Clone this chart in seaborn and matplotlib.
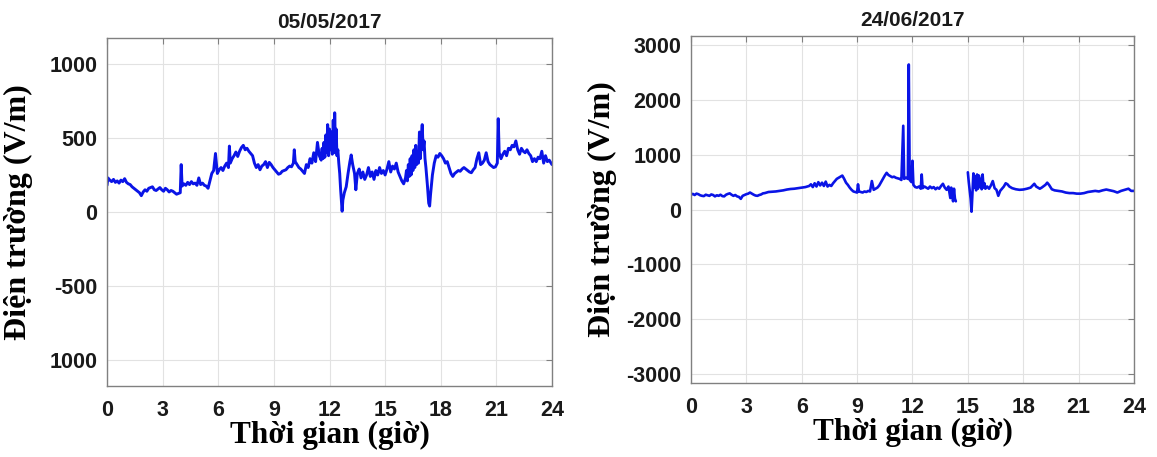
import numpy as np
import pandas as pd
import matplotlib
matplotlib.use("Agg")
import matplotlib.pyplot as plt
import seaborn as sns

# ---- Atmospheric electric field, 05/05/2017 ----
day1_title = "05/05/2017"
day1_hours = [
    0.00, 0.05, 0.15, 0.25, 0.35, 0.45, 0.55, 0.65, 0.75, 0.85, 0.95, 1.05, 1.15, 1.25,
    1.35, 1.45, 1.55, 1.65, 1.75, 1.85, 1.95, 2.05, 2.15, 2.25, 2.35, 2.45, 2.55, 2.65,
    2.75, 2.85, 2.95, 3.05, 3.15, 3.25, 3.35, 3.45, 3.55, 3.65, 3.75, 3.85, 3.95, 4.00,
    4.05, 4.15, 4.25, 4.35, 4.45, 4.55, 4.65, 4.75, 4.85, 4.95, 5.05, 5.15, 5.25, 5.35,
    5.45, 5.55, 5.65, 5.75, 5.85, 5.95, 6.05, 6.15, 6.25, 6.35, 6.45, 6.55, 6.60, 6.65,
    6.75, 6.85, 6.95, 7.05, 7.15, 7.25, 7.35, 7.45, 7.55, 7.65, 7.75, 7.85, 7.95, 8.05,
    8.15, 8.25, 8.35, 8.45, 8.55, 8.65, 8.75, 8.85, 8.95, 9.05, 9.15, 9.25, 9.35, 9.45,
    9.55, 9.65, 9.75, 9.85, 9.95, 10.05, 10.10, 10.15, 10.25, 10.35, 10.45, 10.55, 10.65,
    10.75, 10.85, 10.95, 11.05, 11.15, 11.25, 11.35, 11.45, 11.55, 11.60, 11.65, 11.70,
    11.75, 11.80, 11.85, 11.90, 11.95, 12.00, 12.05, 12.10, 12.15, 12.20, 12.25, 12.28,
    12.32, 12.36, 12.40, 12.45, 12.50, 12.55, 12.60, 12.65, 12.68, 12.72, 12.80, 12.90,
    13.00, 13.10, 13.17, 13.25, 13.35, 13.42, 13.50, 13.60, 13.70, 13.80, 13.90, 14.00,
    14.10, 14.20, 14.30, 14.40, 14.50, 14.60, 14.70, 14.80, 14.90, 15.00, 15.10, 15.20,
    15.30, 15.40, 15.50, 15.60, 15.70, 15.80, 15.90, 16.00, 16.10, 16.15, 16.20, 16.25,
    16.30, 16.35, 16.40, 16.45, 16.50, 16.55, 16.60, 16.65, 16.70, 16.75, 16.80, 16.85,
    16.90, 16.95, 17.00, 17.05, 17.10, 17.15, 17.20, 17.28, 17.35, 17.40, 17.45, 17.55,
    17.65, 17.75, 17.85, 17.95, 18.05, 18.15, 18.25, 18.35, 18.45, 18.55, 18.65, 18.75,
    18.85, 18.95, 19.05, 19.15, 19.25, 19.35, 19.45, 19.55, 19.65, 19.75, 19.85, 19.95,
    20.05, 20.15, 20.25, 20.35, 20.45, 20.55, 20.65, 20.75, 20.85, 20.95, 21.05, 21.10,
    21.15, 21.25, 21.35, 21.45, 21.55, 21.65, 21.75, 21.85, 21.95, 22.05, 22.15, 22.25,
    22.35, 22.45, 22.55, 22.65, 22.75, 22.85, 22.95, 23.05, 23.15, 23.25, 23.35, 23.45,
    23.55, 23.65, 23.75, 23.85, 24.00,
]
day1_field = [
    180, 230, 215, 205, 220, 200, 210, 195, 215, 205, 225, 200, 190, 185,
    170, 160, 150, 140, 130, 110, 135, 150, 140, 160, 165, 170, 150, 145,
    155, 165, 150, 140, 160, 150, 135, 145, 140, 130, 120, 125, 130, 320,
    175, 190, 180, 200, 185, 205, 190, 195, 180, 230, 185, 195, 180, 175,
    160, 210, 260, 280, 395, 260, 285, 300, 280, 310, 330, 300, 445, 330,
    360, 380, 405, 375, 410, 435, 450, 420, 430, 410, 395, 380, 330, 300,
    320, 285, 310, 320, 340, 300, 335, 320, 300, 285, 270, 255, 260, 275,
    280, 285, 300, 310, 305, 330, 420, 340, 320, 300, 290, 275, 260,
    320, 300, 360, 330, 400, 340, 470, 380, 350, 430, 360, 470,
    370, 520, 400, 590, 380, 560, 420, 540, 390, 620, 400, 670,
    430, 560, 380, 420, 330, 260, 150, 60, 5, 80, 130, 170,
    260, 340, 385, 320, 260, 150, 260, 290, 230, 270, 220, 250,
    300, 240, 270, 220, 280, 250, 300, 260, 280, 250, 290, 340,
    270, 310, 290, 330, 270, 240, 210, 190, 230, 280, 210, 320,
    240, 360, 250, 380, 280, 420, 300, 450, 320, 400, 330, 540,
    360, 500, 590, 420, 480, 360, 300, 180, 60, 40, 120, 250,
    330, 380, 370, 395, 380, 360, 330, 340, 300, 260, 240, 260,
    270, 280, 275, 290, 300, 290, 280, 270, 265, 285, 300, 360,
    400, 320, 330, 350, 400, 340, 320, 310, 300, 305, 330, 630,
    400, 360, 390, 410, 380, 430, 420, 450, 440, 480, 420, 390,
    430, 410, 400, 420, 395, 380, 340, 360, 340, 370, 360, 410,
    330, 380, 340, 350, 320,
]
day1_ylim = 1175
day1_yticks = [1000, 500, 0, -500, -1000]
day1_yticklabels = ["1000", "500", "0", "-500", "1000"]

# ---- Atmospheric electric field, 24/06/2017 (record gap after 14.35 h) ----
day2_title = "24/06/2017"
day2_hours = [
    0.00, 0.10, 0.20, 0.30, 0.40, 0.50, 0.60, 0.70, 0.80, 0.90, 1.00, 1.10, 1.20, 1.30,
    1.40, 1.50, 1.60, 1.70, 1.80, 1.90, 2.00, 2.10, 2.20, 2.30, 2.40, 2.50, 2.60, 2.70,
    2.80, 2.90, 3.00, 3.10, 3.20, 3.30, 3.40, 3.50, 3.60, 3.70, 3.80, 3.90, 4.00, 4.20,
    4.40, 4.60, 4.80, 5.00, 5.20, 5.40, 5.60, 5.80, 6.00, 6.20, 6.40, 6.50, 6.60, 6.70,
    6.80, 6.90, 7.00, 7.10, 7.20, 7.30, 7.40, 7.50, 7.60, 7.70, 7.80, 7.90, 8.00, 8.10,
    8.20, 8.30, 8.40, 8.50, 8.60, 8.70, 8.80, 8.90, 9.00, 9.05, 9.10, 9.20, 9.30, 9.40,
    9.50, 9.60, 9.70, 9.80, 9.90, 10.00, 10.10, 10.20, 10.30, 10.40, 10.50, 10.60, 10.70,
    10.80, 10.90, 11.00, 11.10, 11.20, 11.30, 11.40, 11.50, 11.55, 11.65, 11.75, 11.80,
    11.85, 11.95, 12.00, 12.05, 12.15, 12.25, 12.35, 12.45, 12.50, 12.55, 12.65, 12.75,
    12.85, 12.95, 13.05, 13.15, 13.25, 13.35, 13.45, 13.55, 13.65, 13.75, 13.85, 13.95,
    14.05, 14.10, 14.15, 14.20, 14.25, 14.30, 14.35, 14.60,
    15.00, 15.05, 15.10, 15.15, 15.20, 15.25, 15.30, 15.35, 15.40, 15.45, 15.50, 15.55,
    15.60, 15.65, 15.70, 15.75, 15.80, 15.85, 15.90, 15.95, 16.05, 16.15, 16.25, 16.35,
    16.45, 16.55, 16.65, 16.75, 16.85, 16.95, 17.05, 17.15, 17.25, 17.40, 17.60, 17.80,
    18.00, 18.20, 18.40, 18.60, 18.70, 18.80, 18.90, 19.00, 19.20, 19.30, 19.40, 19.55,
    19.70, 19.90, 20.10, 20.30, 20.50, 20.70, 20.90, 21.10, 21.30, 21.50, 21.70, 21.90,
    22.10, 22.30, 22.50, 22.70, 22.90, 23.10, 23.30, 23.50, 23.70, 23.85, 24.00,
]
day2_field = [
    270, 285, 265, 290, 280, 260, 250, 245, 270, 260, 250, 275, 265, 240,
    260, 250, 270, 245, 240, 270, 285, 295, 270, 250, 265, 240, 230, 195,
    250, 265, 280, 290, 310, 290, 270, 255, 250, 265, 275, 295, 300, 320,
    325, 330, 340, 350, 365, 375, 380, 390, 400, 410, 430, 460, 410, 480,
    420, 500, 440, 490, 430, 510, 420, 450, 430, 480, 520, 560, 580, 600,
    620, 560, 490, 450, 400, 360, 330, 320, 310, 460, 330, 320, 310, 330,
    320, 340, 330, 520, 360, 380, 400, 440, 500, 560, 620, 670, 630,
    610, 590, 600, 580, 570, 560, 540, 1530, 560, 580, 560, 2650,
    540, 500, 890, 450, 410, 400, 420, 380, 640, 390, 420, 400,
    380, 420, 390, 410, 370, 400, 380, 430, 470, 400, 360, 420,
    210, 400, 300, 150, 380, 200, 150, np.nan,
    680, 500, 350, 200, -40, 300, 660, 400, 600, 350, 640, 380,
    620, 420, 560, 370, 640, 400, 480, 380, 420, 380, 440, 520,
    390, 360, 250, 340, 380, 420, 480, 460, 420, 390, 370, 360,
    365, 380, 400, 470, 420, 400, 380, 400, 450, 490, 450, 370,
    350, 340, 330, 310, 300, 300, 290, 290, 300, 320, 330, 340,
    330, 350, 365, 350, 335, 310, 340, 360, 380, 340, 340,
]
day2_ylim = 3170
day2_yticks = [3000, 2000, 1000, 0, -1000, -2000, -3000]
day2_yticklabels = ["3000", "2000", "1000", "0", "-1000", "-2000", "-3000"]

hour_ticks = list(range(0, 25, 3))
x_label = "Thời gian (giờ)"
y_label = "Điện trường (V/m)"

LINE_BLUE = "#0a14e6"
TICK_FONT = "Liberation Sans"
LABEL_FONT = "Liberation Serif"

sns.set_theme(style="whitegrid")
plt.rcParams["font.family"] = ["Liberation Sans", "DejaVu Sans"]


def to_frame(hours, field):
    df = pd.DataFrame({"hour": hours, "field": field})
    # each run of valid samples between gaps becomes its own line segment
    df["segment"] = df["field"].isna().cumsum()
    return df.dropna()


def draw_panel(ax, hours, field, title, ylim, yticks, yticklabels, lw, ylabel_x):
    df = to_frame(hours, field)
    sns.lineplot(data=df, x="hour", y="field", units="segment", estimator=None,
                 sort=False, color=LINE_BLUE, linewidth=lw, ax=ax)
    ax.set_xlim(0, 24)
    ax.set_ylim(-ylim, ylim)
    ax.set_xticks(hour_ticks)
    ax.set_xticklabels([str(h) for h in hour_ticks], fontfamily=TICK_FONT,
                       fontweight="bold", fontsize=15.5, color="#1a1a1a")
    ax.set_yticks(yticks)
    ax.set_yticklabels(yticklabels, fontfamily=TICK_FONT,
                       fontweight="bold", fontsize=15.5, color="#1a1a1a")
    ax.set_facecolor("white")
    ax.grid(True, color="#e2e2e2", linewidth=0.8)
    for sp in ax.spines.values():
        sp.set_visible(True)
        sp.set_color("#808080")
        sp.set_linewidth(1.0)
    ax.tick_params(axis="both", direction="in", length=4, width=0.8,
                   color="#808080", top=True, right=True)
    ax.tick_params(axis="x", pad=10)
    ax.tick_params(axis="y", pad=7)
    ax.set_title(title, fontfamily=TICK_FONT, fontweight="bold",
                 fontsize=15, color="#1a1a1a", pad=7)
    ax.set_xlabel(x_label, fontfamily=LABEL_FONT, fontweight="bold",
                  fontsize=22.5, color="black", labelpad=0)
    ax.set_ylabel(y_label, fontfamily=LABEL_FONT, fontweight="bold",
                  fontsize=23, color="black")
    ax.yaxis.set_label_coords(ylabel_x, 0.5)


fig = plt.figure(figsize=(11.57, 4.57), dpi=100)
ax_left = fig.add_axes([0.0925, 0.1554, 0.3846, 0.7615])
ax_right = fig.add_axes([0.5972, 0.1619, 0.3829, 0.7593])

draw_panel(ax_left, day1_hours, day1_field, day1_title, day1_ylim,
           day1_yticks, day1_yticklabels, 2.1, -0.166)
draw_panel(ax_right, day2_hours, day2_field, day2_title, day2_ylim,
           day2_yticks, day2_yticklabels, 1.9, -0.167)

fig.savefig("out.png", dpi=100, facecolor="white")
